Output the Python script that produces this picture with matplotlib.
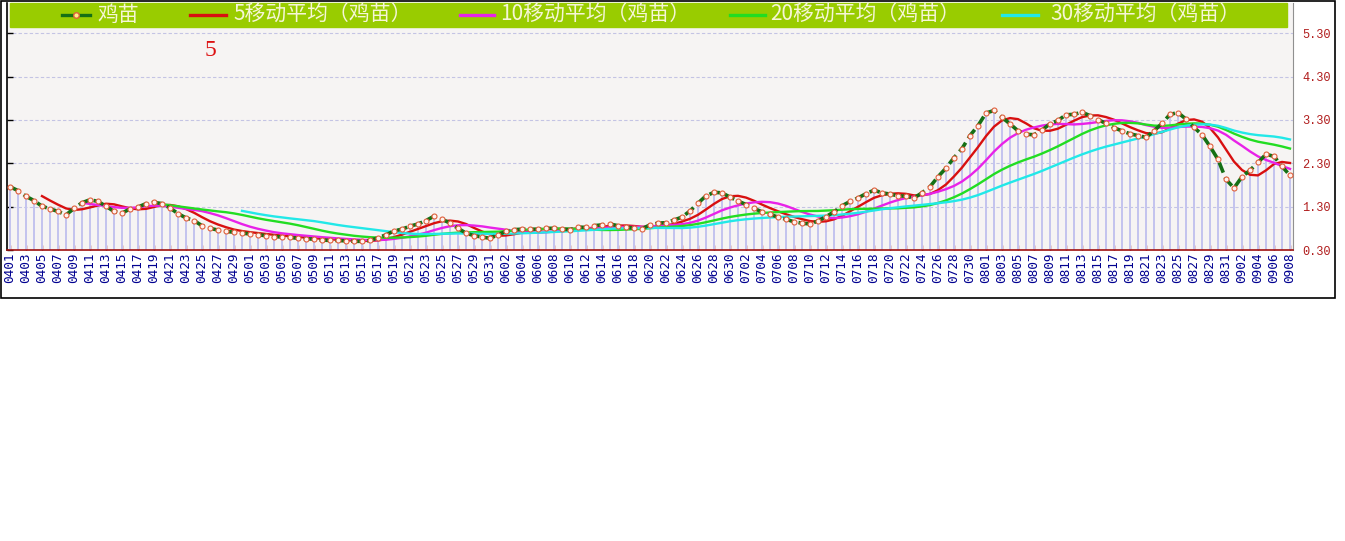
import matplotlib

matplotlib.use("Agg")
import matplotlib.pyplot as plt  # noqa: E402
import numpy as np  # noqa: E402
import pandas as pd  # noqa: E402
from matplotlib.patches import Rectangle  # noqa: E402

plt.rcParams["font.family"] = ["Noto Sans CJK SC", "DejaVu Sans"]

# daily price of 鸡苗, 04-01 .. 09-08
price = [
    1.76, 1.67, 1.54, 1.44, 1.31, 1.25, 1.19, 1.11, 1.26, 1.39,
    1.46, 1.42, 1.31, 1.19, 1.15, 1.25, 1.29, 1.37, 1.40, 1.37,
    1.27, 1.14, 1.04, 0.98, 0.86, 0.80, 0.76, 0.73, 0.71, 0.69,
    0.67, 0.65, 0.63, 0.61, 0.60, 0.59, 0.57, 0.56, 0.55, 0.53,
    0.52, 0.52, 0.51, 0.50, 0.50, 0.52, 0.58, 0.65, 0.74, 0.78,
    0.85, 0.90, 0.98, 1.08, 1.01, 0.92, 0.80, 0.69, 0.63, 0.60,
    0.57, 0.65, 0.73, 0.77, 0.78, 0.78, 0.78, 0.80, 0.80, 0.78,
    0.77, 0.83, 0.82, 0.86, 0.88, 0.90, 0.86, 0.83, 0.80, 0.79,
    0.88, 0.92, 0.93, 0.99, 1.06, 1.20, 1.38, 1.55, 1.63, 1.62,
    1.52, 1.43, 1.35, 1.26, 1.18, 1.12, 1.06, 1.01, 0.95, 0.92,
    0.90, 0.97, 1.07, 1.18, 1.32, 1.42, 1.50, 1.60, 1.68, 1.62,
    1.59, 1.55, 1.54, 1.50, 1.62, 1.76, 1.99, 2.19, 2.43, 2.64,
    2.94, 3.17, 3.46, 3.52, 3.36, 3.21, 3.05, 2.97, 2.96, 3.07,
    3.21, 3.29, 3.42, 3.43, 3.48, 3.40, 3.31, 3.22, 3.12, 3.05,
    2.98, 2.94, 2.90, 3.05, 3.22, 3.43, 3.47, 3.32, 3.13, 2.96,
    2.69, 2.39, 1.93, 1.73, 1.99, 2.14, 2.32, 2.51, 2.46, 2.23,
    2.02,
]
dates = pd.date_range("2021-04-01", "2021-09-08").strftime("%m%d").tolist()
ma_windows = [5, 10, 20, 30]
ma_colors = ["#d81010", "#e822e8", "#22dd22", "#22e8e8"]
series_names = ["鸡苗"] + [f"{w}移动平均（鸡苗）" for w in ma_windows]
ytick_values = [0.3, 1.3, 2.3, 3.3, 4.3, 5.3]

W, H = 1345, 541
x = np.arange(len(price))
s = pd.Series(price)

fig = plt.figure(figsize=(W / 100, H / 100), dpi=100)
ax = fig.add_axes([7 / W, 1 - 250 / H, (1293 - 7) / W, (250 - 3) / H])
ax.set_facecolor("#f6f4f3")
ax.set_xlim(-0.375, len(price) - 0.625)
ax.set_ylim(0.3, 6.0)

# bars from the 0.30 baseline
ax.bar(x, s - 0.3, bottom=0.3, width=0.36, color="#c4c4ee", zorder=1)

for w, c in zip(ma_windows, ma_colors):
    ax.plot(x, s.rolling(w).mean(), color=c, lw=1.7, zorder=3)

ax.plot(x, s, color="#157015", lw=2.6, ls=(0, (3, 1.4)), zorder=4,
        marker="o", ms=3.6, mfc="#fff2ee", mec="#e0603c", mew=0.8)

# axes styling
ax.set_axisbelow(True)
ax.yaxis.grid(True, color="#c4c4e4", ls=(0, (3, 2)), lw=0.8)
ax.set_yticks(ytick_values)
ax.set_yticklabels([f"{v:.2f}" for v in ytick_values],
                   family="Liberation Mono", fontsize=8.6)
ax.tick_params(axis="y", left=True, right=False, labelleft=False,
               labelright=True, direction="in", length=4, width=1,
               color="black", labelcolor="#b01c1c", pad=6.5)

ax.set_xticks(x[::2])
ax.set_xticklabels(dates[::2], rotation=90, family="DejaVu Sans Mono",
                   fontsize=9.2)
ax.tick_params(axis="x", bottom=True, direction="in", length=3.5, width=1,
               color="#a01010", labelcolor="#000090", pad=2)

ax.spines["top"].set_visible(False)
ax.spines["left"].set_color("black")
ax.spines["left"].set_linewidth(1.2)
ax.spines["right"].set_color("#909090")
ax.spines["bottom"].set_color("#a01010")
ax.spines["bottom"].set_linewidth(1.2)

# legend band
def ax_x(px):
    return (px - 7) / 1286


def ax_y(py):
    return (250 - py) / 247


ax.add_patch(Rectangle((ax_x(10), ax_y(27)), ax_x(1287) - ax_x(10),
                       1 - ax_y(27), transform=ax.transAxes,
                       color="#99cc00", zorder=6, clip_on=False))
handle_px = [(62, 90), (190, 226), (460, 494), (730, 765), (1002, 1038)]
text_px = [97, 233, 500, 770, 1050]
handle_colors = ["#157015"] + ma_colors
yl = ax_y(15)
for (h0, h1), tx, name, c in zip(handle_px, text_px, series_names,
                                 handle_colors):
    ax.plot([ax_x(h0), ax_x(h1)], [yl, yl], color=c, lw=2.4,
            transform=ax.transAxes, zorder=7, clip_on=False)
    ax.text(ax_x(tx), yl, name, transform=ax.transAxes, color="#f6f6d6",
            fontsize=15, va="center", ha="left", zorder=8)
ax.plot([ax_x(76)], [yl], marker="o", ms=4, mfc="#ffee88", mec="#e0603c",
        mew=1, transform=ax.transAxes, zorder=8, clip_on=False)

ax.text(25, 4.91, "5", color="#dd1111", fontsize=17,
        family="Liberation Serif", ha="center", va="center")

# outer frame
fig.add_artist(Rectangle((1 / W, 1 - 298 / H), 1334 / W, 297 / H,
                         transform=fig.transFigure, fill=False,
                         ec="black", lw=1.2))

fig.savefig("out.png", dpi=100, facecolor="white")
